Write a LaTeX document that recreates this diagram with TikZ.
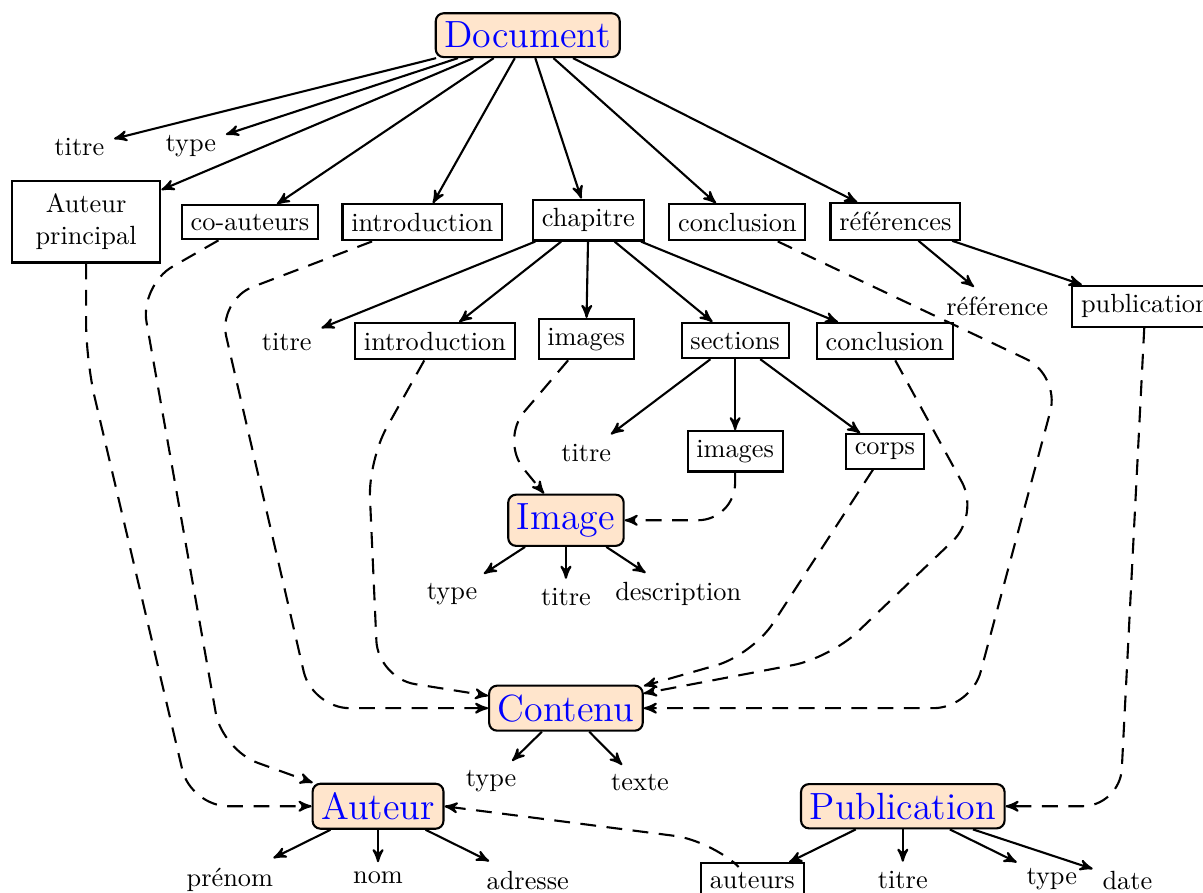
\documentclass[tikz,border=0pt]{standalone}
\usepackage{fontspec}
\usetikzlibrary{arrows}

\begin{document}
\begin{tikzpicture}[thick,>=stealth',
  classe/.style={draw,rounded corners=3pt,fill=orange!20,text=blue,font=\Large},
  champ/.style={draw,rectangle},
  lien/.style={->,dash pattern=on 6pt off 4pt,rounded corners=0.5cm}]
\useasboundingbox (0,0) rectangle (16.07,11.92);
\node[classe] (document) at (7.05,11.45) {Document};
\node (titreD) at (1.06,9.95) {titre};
\node (typeD) at (2.55,9.97) {type};
\node[champ,align=center,text width=1.75cm,inner ysep=5pt] (auteurP) at (1.15,8.96) {Auteur\\principal};
\node[champ] (coauteurs) at (3.34,8.95) {co-auteurs};
\node[champ] (introD) at (5.64,8.95) {introduction};
\node[champ] (chapitre) at (7.86,8.98) {chapitre};
\node[champ] (conclD) at (9.85,8.95) {conclusion};
\node[champ] (refs) at (11.96,8.96) {références};

\node (titreC) at (3.83,7.35) {titre};
\node[champ] (introC) at (5.81,7.36) {introduction};
\node[champ] (imagesC) at (7.83,7.39) {images};
\node[champ] (sections) at (9.82,7.37) {sections};
\node[champ] (conclC) at (11.82,7.36) {conclusion};
\node (ref) at (13.32,7.83) {référence};
\node[champ] (publi) at (15.30,7.83) {publication};

\node (titreS) at (7.83,5.87) {titre};
\node[champ] (imagesS) at (9.82,5.89) {images};
\node[champ] (corps) at (11.82,5.89) {corps};

\node[classe] (image) at (7.56,4.97) {Image};
\node (typeI) at (6.04,3.98) {type};
\node (titreI) at (7.56,3.94) {titre};
\node (descI) at (9.06,3.98) {description};

\node[classe] (contenu) at (7.56,2.46) {Contenu};
\node (typeC) at (6.56,1.48) {type};
\node (texteC) at (8.55,1.46) {texte};

\node[classe] (auteur) at (5.05,1.15) {Auteur};
\node (prenom) at (3.07,0.17) {prénom};
\node (nom) at (5.05,0.19) {nom};
\node (adresse) at (7.05,0.16) {adresse};
\node[champ] (auteurs) at (10.05,0.16) {auteurs};

\node[classe] (publication) at (12.06,1.15) {Publication};
\node (titreP) at (12.06,0.16) {titre};
\node (typeP) at (14.05,0.17) {type};
\node (dateP) at (15.06,0.16) {date};

\path[->] (document) edge (titreD) edge (typeD) edge (auteurP) edge (coauteurs)
  edge (introD) edge (chapitre) edge (conclD) edge (refs);
\path[->] (chapitre) edge (titreC) edge (introC) edge (imagesC) edge (sections) edge (conclC);
\path[->] (refs) edge (ref) edge (publi);
\path[->] (sections) edge (titreS) edge (imagesS) edge (corps);
\path[->] (image) edge (typeI) edge (titreI) edge (descI);
\path[->] (contenu) edge (typeC) edge (texteC);
\path[->] (auteur) edge (prenom) edge (nom) edge (adresse);
\path[->] (publication) edge (auteurs) edge (titreP) edge (typeP) edge (dateP);

\draw[lien] (auteurP) -- (1.15,7.1) -- (2.55,1.15) -- (auteur);
\draw[lien] (coauteurs) -- (1.87,8.11) -- (2.97,1.90) -- (auteur);
\draw[lien] (introD) -- (2.91,7.91) -- (4.17,2.46) -- (contenu);
\draw[lien] (introC) -- (4.92,5.77) -- (5.05,2.86) -- (contenu);
\draw[lien] (imagesC) -- (6.68,6.04) -- (image);
\draw[lien] (imagesS) |- (image);
\draw[lien] (corps) -- (10.05,3.17) -- (contenu);
\draw[lien] (conclC) -- (13.09,5.04) -- (11.09,3.13) -- (contenu);
\draw[lien] (conclD) -- (14.16,6.91) -- (12.97,2.46) -- (contenu);
\draw[lien] (publi) -- (14.96,1.15) -- (publication);
\draw[lien] (auteurs) -- (9.51,0.69) -- (auteur.east);
\end{tikzpicture}
\end{document}
